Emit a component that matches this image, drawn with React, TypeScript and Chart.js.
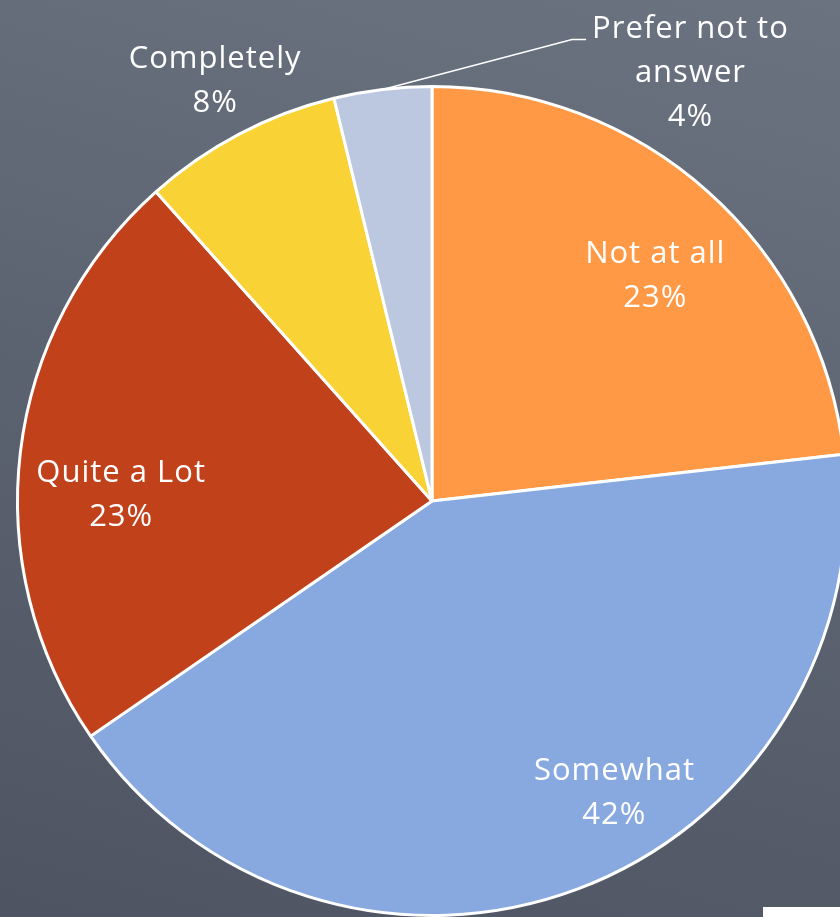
import React, { useEffect, useRef } from "react";
import { Chart, registerables } from "chart.js";

Chart.register(...registerables);

const categories = ["Not at all", "Somewhat", "Quite a Lot", "Completely", "Prefer not to answer"];
const values = [23.2, 42.2, 23.0, 7.8, 3.8];
const colors = ["#FF9946", "#87A9E0", "#C1411B", "#F9D336", "#BCC7E0"];
// label text lines (category split for wrapping) + percentage
const labelLines = [["Not at all"], ["Somewhat"], ["Quite a Lot"], ["Completely"], ["Prefer not to", "answer"]];
// label placement: angle shift from slice middle (deg), radius fraction
const labelAngleShift = [3, -11.5, -5.8, 0.4, 38];
const labelRadius = [0.765, 0.83, 0.75, 1.14, 1.205];
const leader = [false, false, false, false, true];

const FONT = "31px 'Open Sans', sans-serif";
const LINE_H = 44;

const labelPlugin = {
  id: "pieLabels",
  afterDatasetsDraw(chart: any) {
    const ctx = chart.ctx as CanvasRenderingContext2D;
    const meta = chart.getDatasetMeta(0);
    const total = values.reduce((a, b) => a + b, 0);
    ctx.save();
    ctx.font = FONT;
    (ctx as any).letterSpacing = "1px";
    ctx.fillStyle = "#ffffff";
    ctx.textAlign = "center";
    ctx.textBaseline = "middle";
    meta.data.forEach((arc: any, i: number) => {
      const { x, y, startAngle, endAngle, outerRadius } = arc.getProps(
        ["x", "y", "startAngle", "endAngle", "outerRadius"],
        true
      );
      const mid = (startAngle + endAngle) / 2;
      const a = mid + (labelAngleShift[i] * Math.PI) / 180;
      const r = outerRadius * labelRadius[i];
      const cx = x + Math.cos(a) * r;
      const cy = y + Math.sin(a) * r;
      const pct = Math.round((values[i] / total) * 100) + "%";
      const lines = [...labelLines[i], pct];
      const top = cy - ((lines.length - 1) * LINE_H) / 2;
      lines.forEach((t, k) => ctx.fillText(t, cx, top + k * LINE_H));
      if (leader[i]) {
        const w = ctx.measureText(lines[0]).width;
        const left = cx - w / 2;
        const ey = top + 10;
        const sx = x + Math.cos(mid) * outerRadius;
        const sy = y + Math.sin(mid) * outerRadius;
        ctx.strokeStyle = "#ffffff";
        ctx.lineWidth = 1.5;
        ctx.beginPath();
        ctx.moveTo(sx, sy);
        ctx.lineTo(left - 20, ey);
        ctx.lineTo(left - 6, ey);
        ctx.stroke();
      }
    });
    ctx.restore();
  },
};

export default function App() {
  const ref = useRef<HTMLCanvasElement>(null);
  useEffect(() => {
    if (!ref.current) return;
    const chart = new Chart(ref.current, {
      type: "pie",
      data: {
        labels: categories,
        datasets: [
          {
            data: values,
            backgroundColor: colors,
            borderColor: "#ffffff",
            borderWidth: 3,
          },
        ],
      },
      options: {
        responsive: false,
        animation: false,
        layout: { padding: { left: 15, right: 17, top: 85, bottom: 87 } },
        plugins: {
          legend: { display: false },
          tooltip: { enabled: false },
        },
      },
      plugins: [labelPlugin],
    });
    return () => chart.destroy();
  }, []);

  return (
    <div
      style={{
        position: "fixed",
        left: 0,
        top: 0,
        width: 840,
        height: 917,
        overflow: "hidden",
        background: "linear-gradient(195deg, #6b7381 0%, #5c6370 50%, #4e5462 100%)",
      }}
    >
      <canvas ref={ref} width={866} height={1004} style={{ position: "absolute", left: 0, top: 0 }} />
      <div
        style={{
          position: "absolute",
          left: 763,
          top: 907,
          width: 77,
          height: 10,
          background: "#ffffff",
        }}
      />
    </div>
  );
}
